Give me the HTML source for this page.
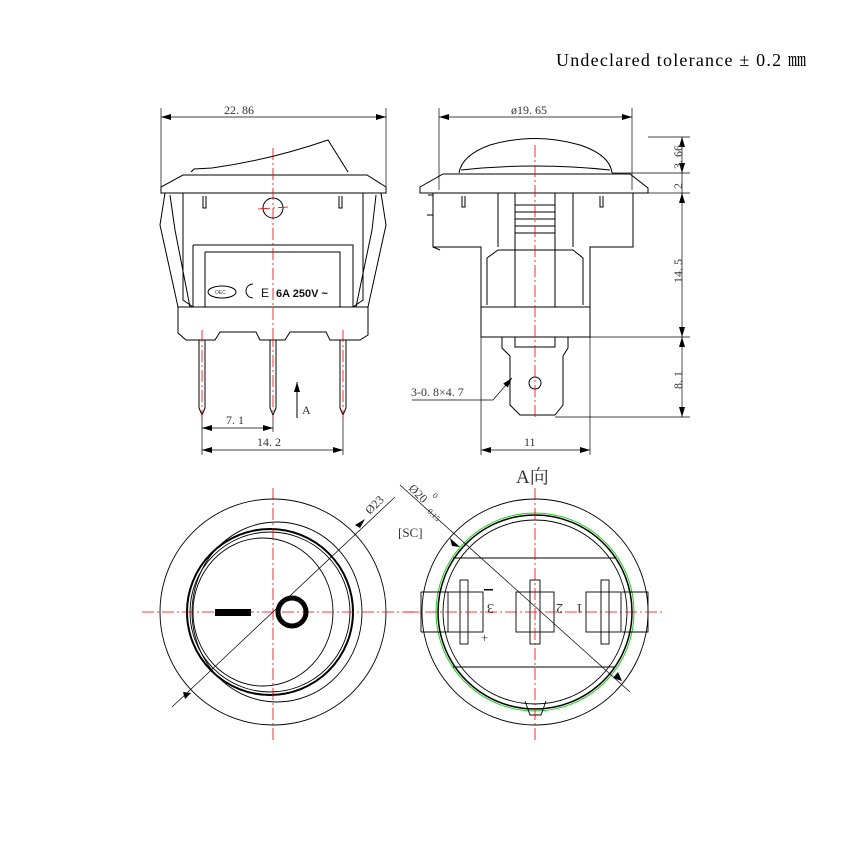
<!DOCTYPE html>
<html><head><meta charset="utf-8"><style>
html,body{margin:0;padding:0;background:#fff;}
svg{display:block;}
text{font-family:"Liberation Serif","Noto Serif CJK SC",serif;fill:#333;}
</style></head><body>
<svg width="842" height="844" viewBox="0 0 842 844" xmlns="http://www.w3.org/2000/svg">
<defs>
<marker id="a" viewBox="0 0 10 6" refX="10" refY="3" markerWidth="10" markerHeight="6" orient="auto-start-reverse" markerUnits="userSpaceOnUse"><path d="M0,0 L10,3 L0,6z" fill="#000"/></marker>
</defs>
<text x="556" y="66" font-size="18" textLength="250" lengthAdjust="spacing" style="fill:#000">Undeclared tolerance ± 0.2 ㎜</text>

<g stroke="#000" stroke-width="1" fill="none">
<!-- LEFT TOP VIEW -->
<line x1="161" y1="108" x2="161" y2="190" stroke-width="0.7"/>
<line x1="386" y1="108" x2="386" y2="190" stroke-width="0.7"/>
<line x1="161" y1="117" x2="386" y2="117" marker-start="url(#a)" marker-end="url(#a)" stroke-width="0.7"/>
<path d="M191,172 L194,169 L212,168 Q270,160 328,140 L348,172"/>
<path d="M161,193 L161,187 L183,175 L367,175 L386,187 L386,193 Z"/>
<path d="M183,193 L183,300 L193,307 L353,307 L363,300 L363,193"/>
<path d="M165,193 L160,225 L178,307 L183,307 M170,195 L175,230 L190,307"/>
<path d="M381,193 L386,225 L368,307 L363,307 M376,195 L372,230 L356,307"/>
<path d="M193,245 L353,245 L353,307 M193,245 L193,307 M205,252 L340,252 L340,307 M205,252 L205,307"/>
<path d="M203,196 L203,208 L206,208 L206,196 M339,196 L339,208 L342,208 L342,196"/>
<circle cx="273" cy="208" r="10"/>
<path d="M178,307 L368,307 L368,335 L360,340 L330,340 L326,332 L290,332 L285,340 L260,340 L256,332 L220,332 L215,340 L186,340 L178,333 Z"/>
<path d="M199,340 L199,408 L202,415 L205,408 L205,340 M270,340 L270,408 L273,415 L276,408 L276,340 M340,340 L340,408 L343,415 L346,408 L346,340"/>
<line x1="202" y1="415" x2="202" y2="455" stroke-width="0.7"/>
<line x1="343" y1="415" x2="343" y2="455" stroke-width="0.7"/>
<line x1="273" y1="415" x2="273" y2="432" stroke-width="0.7"/>
<line x1="202" y1="428" x2="273" y2="428" marker-start="url(#a)" marker-end="url(#a)" stroke-width="0.7"/>
<line x1="202" y1="450" x2="343" y2="450" marker-start="url(#a)" marker-end="url(#a)" stroke-width="0.7"/>
<line x1="297" y1="418" x2="297" y2="382" marker-end="url(#a)"/>
<ellipse cx="222" cy="292" rx="14" ry="6"/>
<path d="M253,284 a7,7 0 0 0 0,14"/>
</g>
<text x="224" y="114" font-size="12">22. 86</text>
<text x="226" y="424" font-size="12">7. 1</text>
<text x="257" y="446" font-size="12">14. 2</text>
<text x="302" y="414" font-size="12">A</text>
<text x="261" y="297" font-size="12" style="font-family:'Liberation Sans',sans-serif;fill:#111">E</text>
<text x="276" y="297" font-size="11" font-weight="bold" style="font-family:'Liberation Sans',sans-serif;fill:#111">6A  250V ~</text>
<text x="215" y="294" font-size="5" style="font-family:'Liberation Sans',sans-serif">OEC</text>

<g stroke="#e00" stroke-width="0.8" fill="none" stroke-dasharray="12,3,2,3">
<line x1="273" y1="148" x2="273" y2="335"/>
<line x1="258" y1="209" x2="288" y2="207"/>
<line x1="202" y1="330" x2="202" y2="418"/>
<line x1="273" y1="335" x2="273" y2="418"/>
<line x1="343" y1="330" x2="343" y2="418"/>
</g>

<!-- RIGHT TOP VIEW -->
<g stroke="#000" stroke-width="1" fill="none">
<line x1="439" y1="108" x2="439" y2="190" stroke-width="0.7"/>
<line x1="632" y1="108" x2="632" y2="190" stroke-width="0.7"/>
<line x1="439" y1="117" x2="632" y2="117" marker-start="url(#a)" marker-end="url(#a)" stroke-width="0.7"/>
<path d="M459,173 Q462,155 490,145 Q535,132 580,145 Q610,155 612,173"/>
<path d="M461,170 Q535,162 610,170"/>
<path d="M420,193 L420,187 L443,174 L630,174 L648,188 L648,193 Z"/>
<path d="M433,193 L433,247 L481,247 L481,337 L590,337 L590,247 L633,247 L633,193"/>
<path d="M428,195 L433,195 M427,215 L433,215 L433,247 L440,250"/>
<path d="M487,305 L487,258 L498,250 L573,250 L583,258 L583,305"/>
<line x1="481" y1="307" x2="590" y2="307"/>
<path d="M498,193 L498,247 M573,193 L573,247 M515,193 L515,307 M555,193 L555,307"/>
<path d="M515,205 L555,205 M515,212 L555,212 M515,219 L555,219 M515,226 L555,226 M515,233 L555,233"/>
<path d="M462,196 L462,207 L465,207 L465,196 M600,196 L600,207 L603,207 L603,196"/>
<path d="M502,337 L502,348 L510,356 L510,405 L520,415 L555,415 L563,405 L563,356 L568,348 L568,337"/>
<path d="M515,337 L515,347 L555,347 L555,337"/>
<circle cx="535" cy="383" r="6"/>
<line x1="648" y1="137" x2="690" y2="137" stroke-width="0.7"/>
<line x1="612" y1="173" x2="690" y2="173" stroke-width="0.7"/>
<line x1="648" y1="193" x2="690" y2="193" stroke-width="0.7"/>
<line x1="590" y1="337" x2="690" y2="337" stroke-width="0.7"/>
<line x1="555" y1="417" x2="690" y2="417" stroke-width="0.7"/>
<line x1="682" y1="137" x2="682" y2="173" marker-start="url(#a)" marker-end="url(#a)" stroke-width="0.7"/>
<line x1="682" y1="173" x2="682" y2="193" stroke-width="0.7"/>
<line x1="682" y1="193" x2="682" y2="337" marker-start="url(#a)" marker-end="url(#a)" stroke-width="0.7"/>
<line x1="682" y1="337" x2="682" y2="417" marker-start="url(#a)" marker-end="url(#a)" stroke-width="0.7"/>
<line x1="481" y1="337" x2="481" y2="455" stroke-width="0.7"/>
<line x1="590" y1="337" x2="590" y2="455" stroke-width="0.7"/>
<line x1="481" y1="450" x2="590" y2="450" marker-start="url(#a)" marker-end="url(#a)" stroke-width="0.7"/>
<polyline points="412,400 493,400 512,378" marker-end="url(#a)" stroke-width="0.7"/>
</g>
<text x="511" y="114" font-size="12">ø19. 65</text>
<text x="524" y="446" font-size="12">11</text>
<text x="411" y="396" font-size="12">3-0. 8×4. 7</text>
<text font-size="12" transform="translate(682,169) rotate(-90)">3. 66</text>
<text font-size="12" transform="translate(682,189) rotate(-90)">2</text>
<text font-size="12" transform="translate(682,283) rotate(-90)">14. 5</text>
<text font-size="12" transform="translate(682,389) rotate(-90)">8. 1</text>
<g stroke="#e00" stroke-width="0.8" fill="none" stroke-dasharray="12,3,2,3">
<line x1="535" y1="145" x2="535" y2="420"/>
</g>

<text x="516" y="483" font-size="19">A向</text>

<!-- BOTTOM LEFT -->
<g stroke="#000" stroke-width="0.9" fill="none">
<circle cx="273" cy="612" r="113"/>
<ellipse cx="277" cy="612" rx="85" ry="90"/>
<circle cx="270" cy="612" r="83" stroke-width="2"/>
<circle cx="270" cy="612" r="80"/>
<ellipse cx="263" cy="612" rx="70" ry="74"/>
<line x1="172" y1="707" x2="395" y2="497" stroke-width="0.7"/>
</g>
<path d="M355,525 L365,519 L360,528Z M185,699 L183,692 L191,693Z" fill="#000"/>
<g stroke="#e00" stroke-width="0.8" fill="none" stroke-dasharray="12,3,2,3">
<line x1="142" y1="612" x2="420" y2="612"/>
<line x1="273" y1="488" x2="273" y2="740"/>
</g>
<rect x="215" y="609" width="36" height="7" fill="#000"/>
<circle cx="292" cy="612" r="14" fill="none" stroke="#000" stroke-width="5"/>
<text font-size="12" transform="translate(370,515) rotate(-45)">Ø23</text>

<!-- BOTTOM RIGHT -->
<g stroke="#000" stroke-width="0.9" fill="none">
<circle cx="535" cy="612" r="113"/>
<circle cx="535" cy="612" r="99" stroke="#2c2" stroke-width="1"/>
<circle cx="535" cy="612" r="97" stroke-width="1.5"/>
<circle cx="535" cy="612" r="92"/>
<path d="M421,592 L448,592 M421,632 L448,632 M421,592 L421,632 M622,592 L648,592 L648,632 L622,632"/>
<line x1="453" y1="558" x2="615" y2="558"/>
<line x1="453" y1="667" x2="615" y2="667"/>
<rect x="448" y="592" width="35" height="40"/>
<rect x="460" y="580" width="8" height="64"/>
<rect x="516" y="592" width="38" height="40"/>
<rect x="530" y="580" width="10" height="64"/>
<rect x="586" y="592" width="35" height="40"/>
<rect x="601" y="580" width="8" height="64"/>
<path d="M525,701 L530,715 L541,715 L546,701"/>
<line x1="400" y1="485" x2="630" y2="692" stroke-width="0.7"/>
</g>
<path d="M450,538 L460,547 L452,546Z M622,681 L618,672 L613,678Z" fill="#000"/>
<rect x="484" y="589" width="9" height="1.5" fill="#000"/>
<text x="481" y="642" font-size="13">+</text>
<text font-size="14" transform="translate(494,604) rotate(180)">3</text>
<text font-size="14" transform="translate(563,604) rotate(180)">2</text>
<text font-size="14" transform="translate(583,604) rotate(180)">1</text>
<text x="398" y="537" font-size="13">[SC]</text>
<text font-size="12" transform="translate(408,489) rotate(45)">Ø20</text>
<text font-size="8" transform="translate(432,496) rotate(45)">0</text>
<text font-size="8" transform="translate(425,510) rotate(45)">-0.15</text>
<g stroke="#e00" stroke-width="0.8" fill="none" stroke-dasharray="12,3,2,3">
<line x1="405" y1="612" x2="665" y2="612"/>
<line x1="535" y1="488" x2="535" y2="740"/>
</g>
</svg>
</body></html>
